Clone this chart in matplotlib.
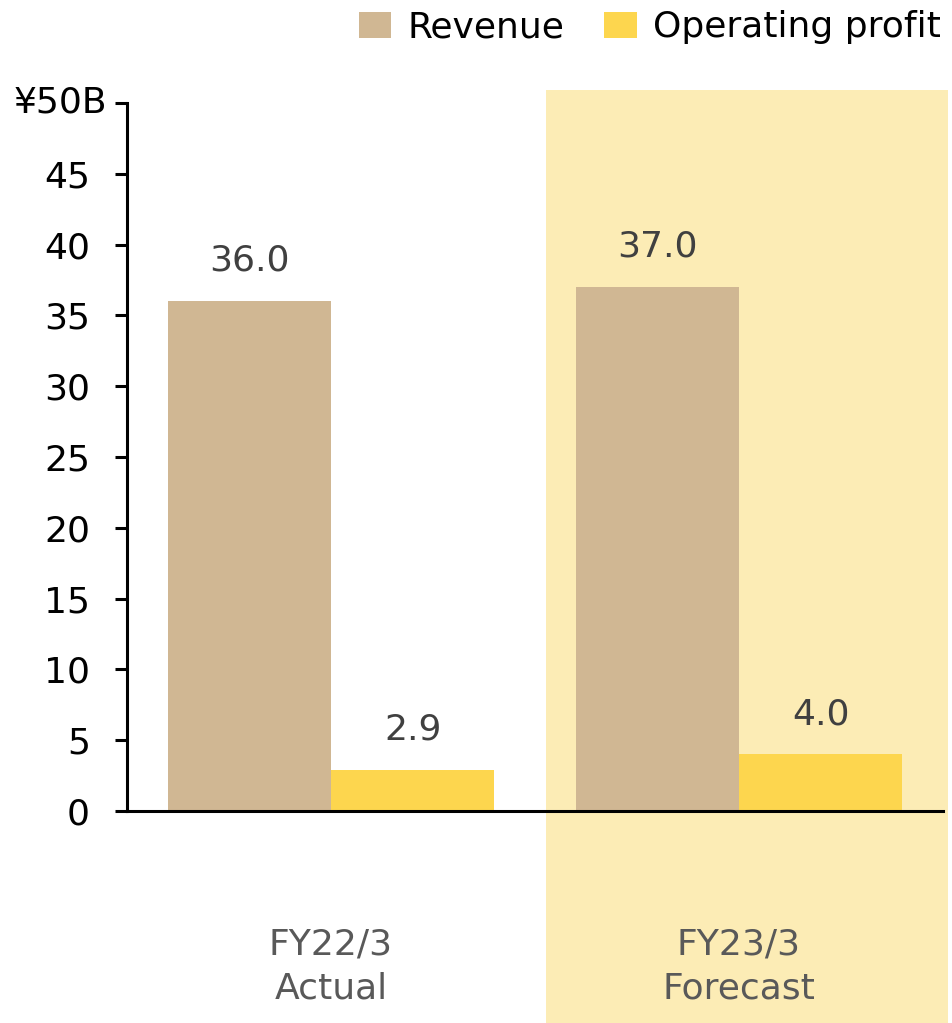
import matplotlib.pyplot as plt
from matplotlib.patches import Rectangle, Patch
import numpy as np

categories = ['FY22/3\nActual', 'FY23/3\nForecast']
revenue = [36.0, 37.0]
operating_profit = [2.9, 4.0]
yticks = [0, 5, 10, 15, 20, 25, 30, 35, 40, 45, 50]
ytick_labels = ['0', '5', '10', '15', '20', '25', '30', '35', '40', '45', '']

rev_color = '#D0B793'
op_color = '#FDD64E'
band_color = '#FCECB5'

plt.rcParams['font.family'] = ['DejaVu Sans']

fig = plt.figure(figsize=(9.53, 10.23), dpi=100)
# forecast highlight band (behind the axes)
fig.patches.append(Rectangle((546 / 953, 0), (948 - 546) / 953, (1023 - 90) / 1023,
                             transform=fig.transFigure, facecolor=band_color,
                             edgecolor='none', zorder=-1))

ax = fig.add_axes([127 / 953, 212 / 1023, 816 / 953, 708 / 1023])
ax.set_facecolor('none')

x = np.arange(len(categories))
w = 0.4
b1 = ax.bar(x - w / 2, revenue, w, color=rev_color, label='Revenue', zorder=2)
b2 = ax.bar(x + w / 2, operating_profit, w, color=op_color, label='Operating profit', zorder=2)

for bars, vals in [(b1, revenue), (b2, operating_profit)]:
    for rect, v in zip(bars, vals):
        ax.annotate(f'{v:.1f}', (rect.get_x() + rect.get_width() / 2, v),
                    xytext=(0, 29), textcoords='offset points',
                    ha='center', va='center', fontsize=26, color='#404040')

ax.set_xlim(-0.5, 1.5)
ax.set_ylim(0, 50)
ax.set_yticks(yticks)
ax.set_yticklabels(ytick_labels, fontsize=26)
ax.annotate('¥50B', xy=(0, 50), xycoords=('axes fraction', 'data'),
            xytext=(-14, 0), textcoords='offset points',
            ha='right', va='center', fontsize=26, color='black')
ax.set_xticks(x)
ax.set_xticklabels(categories, fontsize=26, color='#595959', linespacing=1.35)
ax.tick_params(axis='x', length=0, pad=84)
ax.tick_params(axis='y', length=8.6, width=2.2, pad=18, colors='black')

for s in ['top', 'right']:
    ax.spines[s].set_visible(False)
for s in ['left', 'bottom']:
    ax.spines[s].set_linewidth(2.2)
    ax.spines[s].set_color('black')
    ax.spines[s].set_zorder(3)

handles = [Patch(facecolor=rev_color), Patch(facecolor=op_color)]
fig.legend(handles, ['Revenue', 'Operating profit'], loc='upper right',
           bbox_to_anchor=(948 / 953, 0.997), ncol=2, frameon=False, fontsize=26,
           handlelength=0.9, handleheight=0.72, handletextpad=0.45,
           columnspacing=1.1, borderaxespad=0.1, borderpad=0.1)

fig.savefig('out.png', dpi=100)
